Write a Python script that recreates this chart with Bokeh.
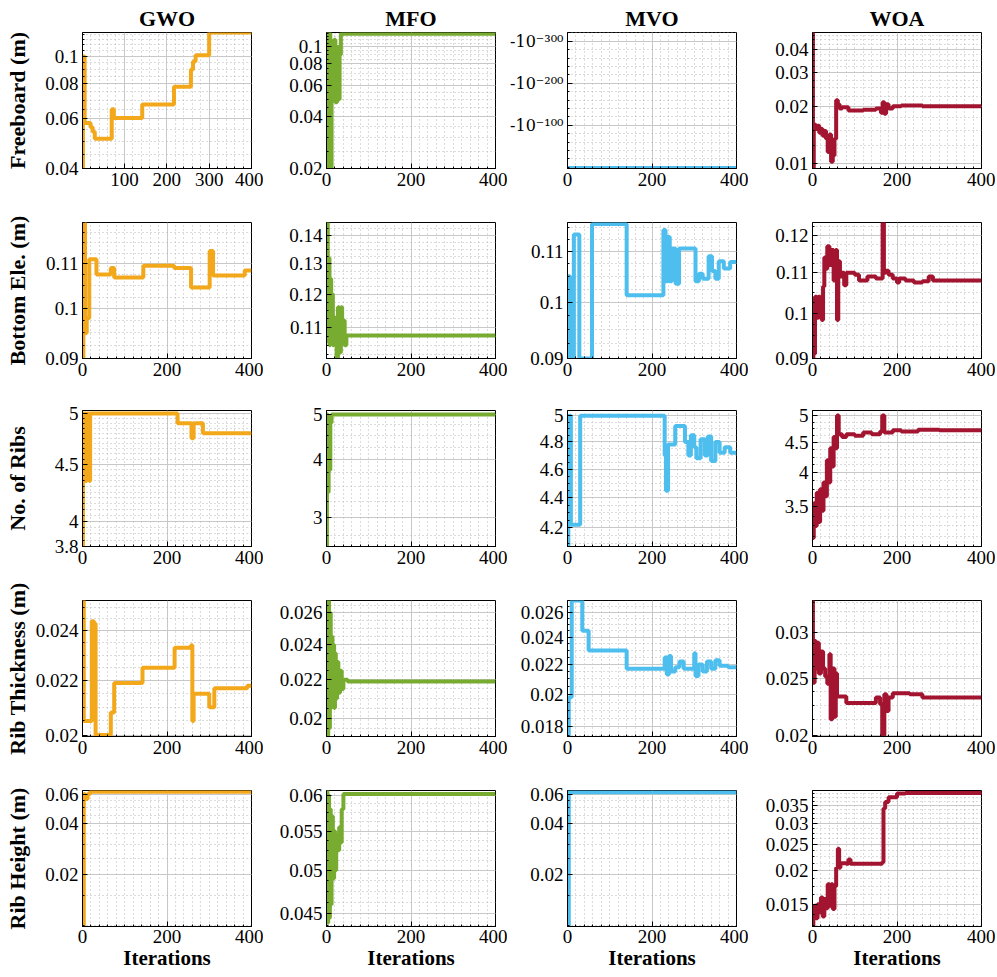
import math
from bokeh.plotting import figure
from bokeh.layouts import gridplot
from bokeh.models import Range1d, FixedTicker, CustomJSTickFormatter
from bokeh.embed import file_html
from bokeh.resources import INLINE

# ---------------- data ----------------
algorithms = ["GWO", "MFO", "MVO", "WOA"]
row_labels = ["Freeboard (m)", "Bottom Ele. (m)", "No. of Ribs", "Rib Thickness (m)", "Rib Height (m)"]
x_label = "Iterations"
x_ticks = [0, 200, 400]
x_ticks_gwo_fb = [100, 200, 300, 400]

# Row 1: Freeboard (m)
gwo_fb_x = [1, 2, 6, 20, 25, 30, 70, 75, 142, 217, 257, 262, 268, 300, 400]
gwo_fb_y = [0.04, 0.1, 0.058, 0.056, 0.054, 0.051, 0.065, 0.0605, 0.0675, 0.078, 0.09, 0.096, 0.101, 0.1217, 0.1217]
mfo_fb_x = [0, 3, 6, 9, 12, 14, 18, 21, 25, 28, 31, 34, 400]
mfo_fb_y = [0.121, 0.02, 0.12, 0.02, 0.1, 0.06, 0.11, 0.048, 0.1, 0.05, 0.09, 0.119, 0.119]
mvo_fb_x = [0, 400]
mvo_fb_y = [-2, -2]          # exponent-scaled axis (values close to -10^0)
mvo_fb_tick_vals = [100, 200, 300]
mvo_fb_tick_text = ["-10\u207b\u00b9\u2070\u2070", "-10\u207b\u00b2\u2070\u2070", "-10\u207b\u00b3\u2070\u2070"]
woa_fb_x = [0, 1, 3, 8, 12, 16, 20, 24, 28, 32, 36, 40, 44, 48, 52, 56, 60, 64, 70, 85, 120, 150, 162, 166, 170, 174, 180, 190, 210, 260, 400]
woa_fb_y = [0.049, 0.0095, 0.016, 0.0152, 0.0158, 0.0145, 0.0152, 0.014, 0.0148, 0.0135, 0.0115, 0.0142, 0.0102, 0.011, 0.0135, 0.0215, 0.0205, 0.0195, 0.0198, 0.019, 0.0192, 0.0195, 0.0185, 0.021, 0.0183, 0.0205, 0.0195, 0.02, 0.0202, 0.02, 0.02]

# Row 2: Bottom Ele. (m)
gwo_be_x = [0, 2, 6, 10, 16, 33, 67, 75, 144, 217, 257, 301, 309, 384, 400]
gwo_be_y = [0.09, 0.1199, 0.095, 0.098, 0.111, 0.1075, 0.109, 0.1068, 0.1095, 0.109, 0.1046, 0.113, 0.1073, 0.1084, 0.1084]
mfo_be_x = [0, 3, 5, 7, 9, 11, 13, 15, 17, 20, 24, 27, 30, 34, 37, 40, 43, 47, 400]
mfo_be_y = [0.1448, 0.106, 0.132, 0.105, 0.125, 0.107, 0.12, 0.105, 0.113, 0.106, 0.1015, 0.116, 0.103, 0.116, 0.106, 0.112, 0.105, 0.1077, 0.1077]
mvo_be_x = [0, 6, 15, 28, 58, 140, 227, 232, 237, 242, 247, 256, 264, 272, 303, 311, 320, 334, 342, 350, 358, 370, 385, 400]
mvo_be_y = [0.105, 0.09, 0.1135, 0.09, 0.1158, 0.1013, 0.1145, 0.104, 0.113, 0.104, 0.1106, 0.1035, 0.1106, 0.1106, 0.104, 0.1055, 0.1045, 0.109, 0.106, 0.1045, 0.108, 0.1065, 0.1078, 0.1078]
woa_be_x = [0, 2, 4, 6, 10, 14, 18, 22, 25, 28, 32, 35, 40, 45, 50, 55, 58, 61, 65, 70, 75, 80, 100, 110, 130, 150, 166, 169, 173, 180, 190, 200, 205, 220, 240, 260, 275, 285, 400]
woa_be_y = [0.09, 0.099, 0.091, 0.104, 0.099, 0.104, 0.1035, 0.0985, 0.1065, 0.114, 0.111, 0.117, 0.112, 0.116, 0.108, 0.116, 0.0985, 0.113, 0.109, 0.11, 0.1068, 0.11, 0.1095, 0.108, 0.109, 0.1085, 0.1237, 0.11, 0.1105, 0.1095, 0.1085, 0.1075, 0.1085, 0.108, 0.1075, 0.1078, 0.109, 0.108, 0.108]

# Row 3: No. of Ribs
gwo_nr_x = [0, 1, 4, 6, 8, 10, 12, 14, 16, 18, 225, 258, 263, 285, 400]
gwo_nr_y = [3.8, 5, 4.35, 5, 4.35, 5, 4.4, 5, 4.35, 5, 4.9, 4.75, 4.9, 4.8, 4.8]
mfo_nr_x = [0, 1, 3, 5, 7, 9, 12, 400]
mfo_nr_y = [2.6, 5, 3.4, 4.5, 3.8, 4.8, 5, 5]
mvo_nr_x = [0, 2, 8, 30, 230, 233, 238, 250, 255, 272, 278, 286, 292, 300, 305, 315, 325, 332, 340, 350, 360, 372, 385, 400]
mvo_nr_y = [4.08, 5, 4.22, 5, 4.7, 4.45, 4.78, 4.78, 4.92, 4.92, 4.8, 4.7, 4.85, 4.76, 4.68, 4.82, 4.7, 4.84, 4.66, 4.8, 4.72, 4.76, 4.72, 4.72]
woa_nr_x = [0, 3, 6, 10, 14, 18, 22, 26, 30, 34, 38, 42, 46, 50, 54, 58, 62, 70, 80, 100, 120, 140, 160, 165, 170, 190, 210, 250, 300, 400]
woa_nr_y = [3.1, 3.55, 3.25, 3.7, 3.3, 3.75, 3.45, 3.85, 3.65, 4.2, 3.85, 4.4, 4.1, 4.6, 4.4, 5.0, 4.65, 4.6, 4.65, 4.62, 4.68, 4.65, 4.7, 5.0, 4.68, 4.72, 4.7, 4.73, 4.72, 4.72]

# Row 4: Rib Thickness (m)
gwo_rt_x = [0, 3, 22, 27, 31, 67, 75, 142, 218, 257, 260, 263, 300, 312, 390, 400]
gwo_rt_y = [0.0253, 0.0205, 0.0244, 0.0243, 0.02, 0.0208, 0.0219, 0.0225, 0.0233, 0.0234, 0.0205, 0.0215, 0.021, 0.0217, 0.0218, 0.0218]
mfo_rt_x = [0, 2, 4, 6, 8, 10, 12, 14, 16, 18, 20, 22, 25, 28, 32, 36, 40, 50, 400]
mfo_rt_y = [0.0268, 0.0191, 0.0268, 0.0195, 0.026, 0.0205, 0.0245, 0.021, 0.024, 0.0205, 0.0235, 0.021, 0.023, 0.0213, 0.0225, 0.0215, 0.022, 0.0219, 0.0219]
mvo_rt_x = [0, 3, 10, 35, 50, 140, 230, 235, 240, 245, 255, 265, 275, 300, 303, 310, 320, 330, 340, 350, 360, 380, 400]
mvo_rt_y = [0.0175, 0.0198, 0.027, 0.0245, 0.023, 0.0217, 0.0225, 0.0213, 0.0226, 0.0215, 0.0218, 0.0222, 0.0217, 0.0228, 0.0212, 0.022, 0.0215, 0.0222, 0.0217, 0.0223, 0.0219, 0.0218, 0.0218]
woa_rt_x = [0, 1, 5, 8, 12, 15, 20, 25, 30, 35, 40, 43, 47, 52, 55, 58, 80, 145, 150, 160, 165, 170, 175, 180, 190, 230, 260, 400]
woa_rt_y = [0.034, 0.0246, 0.029, 0.026, 0.0288, 0.0255, 0.0278, 0.026, 0.0252, 0.0245, 0.0275, 0.0213, 0.026, 0.0215, 0.0255, 0.0233, 0.0227, 0.0227, 0.0232, 0.0226, 0.02, 0.0235, 0.022, 0.0232, 0.0236, 0.0235, 0.0232, 0.0232]

# Row 5: Rib Height (m)
gwo_rh_x = [0, 3, 6, 12, 18, 400]
gwo_rh_y = [0.0098, 0.06, 0.056, 0.06, 0.062, 0.062]
mfo_rh_x = [0, 2, 4, 6, 8, 10, 12, 15, 18, 20, 23, 26, 30, 33, 36, 40, 400]
mfo_rh_y = [0.0607, 0.044, 0.06, 0.0445, 0.058, 0.046, 0.057, 0.049, 0.055, 0.05, 0.0545, 0.0525, 0.0555, 0.0535, 0.058, 0.0602, 0.0602]
mvo_rh_x = [0, 3, 400]
mvo_rh_y = [0.0098, 0.0615, 0.0615]
woa_rh_x = [0, 2, 4, 8, 12, 15, 20, 24, 28, 32, 36, 40, 44, 48, 52, 56, 60, 63, 66, 80, 85, 90, 165, 168, 172, 180, 200, 220, 400]
woa_rh_y = [0.0124, 0.0132, 0.0148, 0.0133, 0.015, 0.014, 0.0159, 0.0135, 0.0157, 0.0145, 0.0178, 0.0148, 0.0178, 0.0144, 0.0175, 0.0205, 0.0241, 0.0205, 0.0213, 0.0212, 0.022, 0.0212, 0.0215, 0.034, 0.036, 0.0375, 0.0387, 0.0389, 0.0387]

# y-axis limits and tick values per panel (rows; columns GWO, MFO, MVO, WOA)
y_limits = [
    [(0.04, 0.1217), (0.02, 0.121), (-3, 321), (0.0094, 0.049)],
    [(0.09, 0.12), (0.1014, 0.1449), (0.09, 0.1161), (0.09, 0.1237)],
    [(3.8, 5.03), (2.6, 5.1), (4.08, 5.04), (3.0, 5.1)],
    [(0.01995, 0.0253), (0.0191, 0.0268), (0.01746, 0.027), (0.0199, 0.034)],
    [(0.0098, 0.063), (0.0436, 0.0607), (0.0098, 0.063), (0.0124, 0.0397)],
]
y_ticks = [
    [[0.04, 0.06, 0.08, 0.1], [0.02, 0.04, 0.06, 0.08, 0.1], mvo_fb_tick_vals, [0.01, 0.02, 0.03, 0.04]],
    [[0.09, 0.1, 0.11], [0.11, 0.12, 0.13, 0.14], [0.09, 0.1, 0.11], [0.09, 0.1, 0.11, 0.12]],
    [[3.8, 4, 4.5, 5], [3, 4, 5], [4.2, 4.4, 4.6, 4.8, 5], [3.5, 4, 4.5, 5]],
    [[0.02, 0.022, 0.024], [0.02, 0.022, 0.024, 0.026], [0.018, 0.02, 0.022, 0.024, 0.026], [0.02, 0.025, 0.03]],
    [[0.02, 0.04, 0.06], [0.045, 0.05, 0.055, 0.06], [0.02, 0.04, 0.06], [0.015, 0.02, 0.025, 0.03, 0.035]],
]
series = [
    [(gwo_fb_x, gwo_fb_y), (mfo_fb_x, mfo_fb_y), (mvo_fb_x, mvo_fb_y), (woa_fb_x, woa_fb_y)],
    [(gwo_be_x, gwo_be_y), (mfo_be_x, mfo_be_y), (mvo_be_x, mvo_be_y), (woa_be_x, woa_be_y)],
    [(gwo_nr_x, gwo_nr_y), (mfo_nr_x, mfo_nr_y), (mvo_nr_x, mvo_nr_y), (woa_nr_x, woa_nr_y)],
    [(gwo_rt_x, gwo_rt_y), (mfo_rt_x, mfo_rt_y), (mvo_rt_x, mvo_rt_y), (woa_rt_x, woa_rt_y)],
    [(gwo_rh_x, gwo_rh_y), (mfo_rh_x, mfo_rh_y), (mvo_rh_x, mvo_rh_y), (woa_rh_x, woa_rh_y)],
]

# ---------------- style ----------------
colors = ["#F2A81A", "#77AC30", "#4DBEEE", "#A2142F"]
FONT = "Liberation Serif"
TICK_PX = 19
YLABEL_PX = 22
XLABEL_PX = 21
TITLE_PX = 22
FRAME_W = 169
FRAME_H = 136
BORDER_L = [82, 63, 60, 64]
BORDER_R = [12, 12, 12, 14]
BORDER_T = [32, 22, 22, 22, 22]
BORDER_B = [32, 30, 32, 32, 50]


def minor_list(lo, hi, ticks, div):
    if len(ticks) > 1:
        step = min(b - a for a, b in zip(ticks[:-1], ticks[1:]))
    else:
        step = hi - lo
    m = step / div
    start = math.floor(lo / m) * m
    out = []
    k = 0
    while start + k * m <= hi + 1e-12:
        out.append(round(start + k * m, 10))
        k += 1
    return out


def label_width(s):
    return sum(TICK_PX * 0.5 if ch.isdigit() else TICK_PX * 0.25 for ch in s)


fmt_js = "return String(tick);"
grid = []
for r in range(5):
    row = []
    for c in range(4):
        xs, ys = series[r][c]
        lo, hi = y_limits[r][c]
        is_mvo_fb = (r == 0 and c == 2)
        x0 = 1 if (r == 0 and c == 0) else 0
        p = figure(
            width=BORDER_L[c] + FRAME_W + BORDER_R[c],
            height=BORDER_T[r] + FRAME_H + BORDER_B[r],
            output_backend="svg", toolbar_location=None,
            x_range=Range1d(x0, 400), y_range=Range1d(lo, hi),
            y_axis_type="linear" if is_mvo_fb else "log",
            min_border_left=BORDER_L[c], min_border_right=BORDER_R[c],
            min_border_top=BORDER_T[r], min_border_bottom=BORDER_B[r],
        )
        p.background_fill_color = "white"
        p.border_fill_color = "white"
        p.outline_line_color = "black"
        p.outline_line_width = 1
        p.outline_line_alpha = 1

        xt_vals = x_ticks_gwo_fb if (r == 0 and c == 0) else x_ticks
        xt = FixedTicker(ticks=xt_vals, minor_ticks=list(range(0, 401, 20)))
        p.xaxis.ticker = xt
        p.xgrid.ticker = xt
        yt_vals = y_ticks[r][c]
        yt = FixedTicker(ticks=yt_vals, minor_ticks=minor_list(lo, hi, yt_vals, 5 if is_mvo_fb else 4))
        p.yaxis.ticker = yt
        p.ygrid.ticker = yt

        p.xaxis.formatter = CustomJSTickFormatter(code=fmt_js)
        if not is_mvo_fb:
            p.yaxis.formatter = CustomJSTickFormatter(code=fmt_js)

        for g in (p.xgrid, p.ygrid):
            g.grid_line_color = "#c8c8c8"
            g.grid_line_width = 1
            g.minor_grid_line_color = "#b8b8b8"
            g.minor_grid_line_dash = "1 3"
            g.minor_grid_line_width = 1

        for ax in (p.xaxis, p.yaxis):
            ax.axis_line_color = "black"
            ax.major_tick_in = 5
            ax.major_tick_out = 0
            ax.minor_tick_in = 2
            ax.minor_tick_out = 0
            ax.major_tick_line_color = "black"
            ax.minor_tick_line_color = "black"
            ax.major_label_text_font = FONT
            ax.major_label_text_font_size = f"{TICK_PX}px"
            ax.major_label_text_color = "black"
        p.yaxis.major_label_standoff = 4
        p.xaxis.major_label_standoff = 3 if r == 4 else 4

        if is_mvo_fb:
            p.yaxis.major_label_overrides = dict(zip(mvo_fb_tick_vals, mvo_fb_tick_text))
            p.yaxis.major_label_text_font = "DejaVu Serif"
            p.yaxis.major_label_text_font_size = "16px"

        if c == 0:
            p.yaxis.axis_label = row_labels[r]
            p.yaxis.axis_label_text_font = FONT
            p.yaxis.axis_label_text_font_style = "bold"
            p.yaxis.axis_label_text_font_size = f"{YLABEL_PX}px"
            p.yaxis.axis_label_text_color = "black"
            w = max(label_width(str(t)) for t in yt_vals)
            p.yaxis.axis_label_standoff = int(max(2, (BORDER_L[0] - 4) - w - 32))
        if r == 4:
            p.xaxis.axis_label = x_label
            p.xaxis.axis_label_text_font = FONT
            p.xaxis.axis_label_text_font_style = "bold"
            p.xaxis.axis_label_text_font_size = f"{XLABEL_PX}px"
            p.xaxis.axis_label_text_color = "black"
            p.xaxis.axis_label_standoff = 0
        if r == 0:
            p.title.text = algorithms[c]
            p.title.align = "center"
            p.title.text_font = FONT
            p.title.text_font_style = "bold"
            p.title.text_font_size = f"{TITLE_PX}px"
            p.title.text_color = "black"
            p.title.standoff = 3

        p.step(xs, ys, mode="after", line_color=colors[c], line_width=4)
        row.append(p)
    grid.append(row)

layout = gridplot(grid, toolbar_location=None)
open("out.html", "w").write(file_html(layout, INLINE))
